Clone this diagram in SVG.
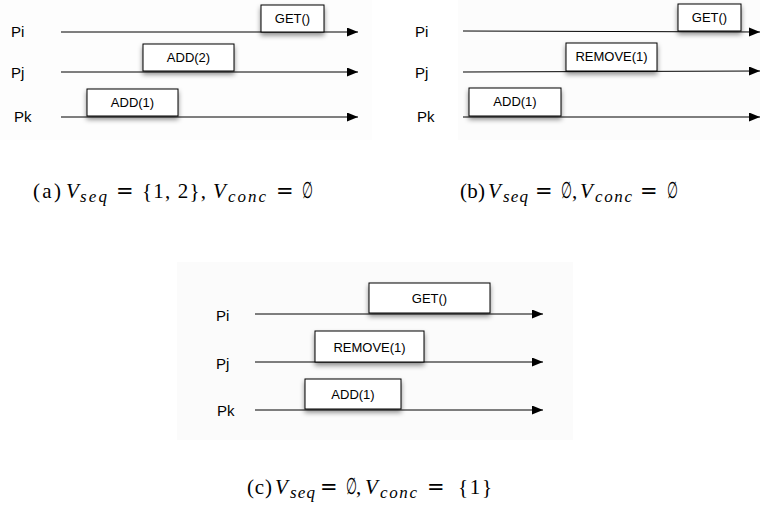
<svg xmlns="http://www.w3.org/2000/svg" width="760" height="512" viewBox="0 0 760 512">
<style>
.line{stroke:#000;stroke-width:1;fill:none;marker-end:url(#ah)}
.box{fill:#fff;stroke:#000;stroke-width:1;filter:url(#sh)}
.bl{font-family:"Liberation Sans",Arial,sans-serif;font-size:13px;text-anchor:middle;fill:#000}
.pl{font-family:"Liberation Sans",Arial,sans-serif;font-size:15px;fill:#000}
.cap{font-family:"Liberation Serif","Times New Roman",serif;font-size:21px;fill:#000}
.it{font-style:italic}
.sub{font-style:italic;font-size:17px}
.eq{font-family:"DejaVu Sans",sans-serif;font-size:21px}
</style>
<defs>
<marker id="ah" markerUnits="userSpaceOnUse" markerWidth="12" markerHeight="10" refX="11" refY="4.5" orient="auto">
<path d="M0,0 L11,4.5 L0,9 Z" fill="#000"/>
</marker>
<filter id="sh" x="-20%" y="-30%" width="140%" height="180%">
<feDropShadow dx="0" dy="3" stdDeviation="2.5" flood-color="#000" flood-opacity="0.45"/>
</filter>
</defs>
<rect x="0" y="0" width="372" height="140" fill="#fdfdfd"/>
<rect x="458" y="0" width="302" height="140" fill="#fcfcfc"/>
<rect x="177" y="262" width="396" height="178" fill="#fbfbfb"/>

<g id="connectors">
<line class="line" x1="61" y1="32" x2="358" y2="32"/>
<line class="line" x1="61" y1="72" x2="358" y2="72"/>
<line class="line" x1="61" y1="117" x2="358" y2="117"/>
<line class="line" x1="463" y1="31" x2="760" y2="32"/>
<line class="line" x1="463" y1="72" x2="760" y2="71"/>
<line class="line" x1="463" y1="117" x2="760" y2="117"/>
<line class="line" x1="255" y1="314" x2="543" y2="314"/>
<line class="line" x1="255" y1="362" x2="543" y2="362"/>
<line class="line" x1="255" y1="410" x2="543" y2="410"/>
</g>

<g id="a-labels">
<text class="pl" x="11" y="37">Pi</text>
<text class="pl" x="11" y="78">Pj</text>
<text class="pl" x="14" y="122">Pk</text>
</g>
<g id="a-get"><rect class="box" x="261" y="5" width="63" height="27"/><text class="bl" x="292.5" y="23">GET()</text></g>
<g id="a-add2"><rect class="box" x="143" y="44" width="91" height="27"/><text class="bl" x="188.5" y="62">ADD(2)</text></g>
<g id="a-add1"><rect class="box" x="87" y="89" width="91" height="27"/><text class="bl" x="132.5" y="107">ADD(1)</text></g>

<g id="b-labels">
<text class="pl" x="415" y="37">Pi</text>
<text class="pl" x="415" y="78">Pj</text>
<text class="pl" x="417" y="122">Pk</text>
</g>
<g id="b-get"><rect class="box" x="678" y="4" width="63" height="27"/><text class="bl" x="709.5" y="22">GET()</text></g>
<g id="b-remove"><rect class="box" x="566" y="43" width="91" height="28"/><text class="bl" x="611.5" y="61">REMOVE(1)</text></g>
<g id="b-add1"><rect class="box" x="469" y="88" width="92" height="28"/><text class="bl" x="515" y="106">ADD(1)</text></g>

<g id="c-labels">
<text class="pl" x="216" y="321">Pi</text>
<text class="pl" x="216" y="369">Pj</text>
<text class="pl" x="217" y="416">Pk</text>
</g>
<g id="c-get"><rect class="box" x="369" y="283" width="121" height="30"/><text class="bl" x="429.5" y="303">GET()</text></g>
<g id="c-remove"><rect class="box" x="315" y="331" width="109" height="31"/><text class="bl" x="369.5" y="352">REMOVE(1)</text></g>
<g id="c-add1"><rect class="box" x="305" y="379" width="96" height="30"/><text class="bl" x="353" y="399">ADD(1)</text></g>

<g id="captions">
<text class="cap" y="198"><tspan x="33" textLength="28" lengthAdjust="spacing">(a)</tspan><tspan class="it" x="66">V</tspan><tspan class="sub" x="80" y="202" textLength="27" lengthAdjust="spacing">seq</tspan><tspan class="eq" x="116" y="198">=</tspan><tspan x="142" textLength="64" lengthAdjust="spacing">{1, 2},</tspan><tspan class="it" x="213">V</tspan><tspan class="sub" x="228" y="202" textLength="38" lengthAdjust="spacing">conc</tspan><tspan class="eq" x="276" y="198">=</tspan></text>
<text class="cap" transform="translate(302,198) scale(0.6,1.1)" x="0" y="0">∅</text>

<text class="cap" y="198"><tspan x="460" textLength="25" lengthAdjust="spacing">(b)</tspan><tspan class="it" x="488">V</tspan><tspan class="sub" x="503" y="202" textLength="25" lengthAdjust="spacing">seq</tspan><tspan class="eq" x="535" y="198">=</tspan><tspan x="572">,</tspan><tspan class="it" x="580">V</tspan><tspan class="sub" x="595" y="202" textLength="37" lengthAdjust="spacing">conc</tspan><tspan class="eq" x="640" y="198">=</tspan></text>
<text class="cap" transform="translate(561,198) scale(0.6,1.1)" x="0" y="0">∅</text>
<text class="cap" transform="translate(667,198) scale(0.6,1.1)" x="0" y="0">∅</text>

<text class="cap" y="494"><tspan x="247" textLength="25" lengthAdjust="spacing">(c)</tspan><tspan class="it" x="275">V</tspan><tspan class="sub" x="290" y="498" textLength="25" lengthAdjust="spacing">seq</tspan><tspan class="eq" x="320" y="494">=</tspan><tspan x="356">,</tspan><tspan class="it" x="365">V</tspan><tspan class="sub" x="380" y="498" textLength="37" lengthAdjust="spacing">conc</tspan><tspan class="eq" x="427" y="494">=</tspan><tspan x="458" textLength="34" lengthAdjust="spacing">{1}</tspan></text>
<text class="cap" transform="translate(346,494) scale(0.6,1.1)" x="0" y="0">∅</text>
</g>
</svg>
